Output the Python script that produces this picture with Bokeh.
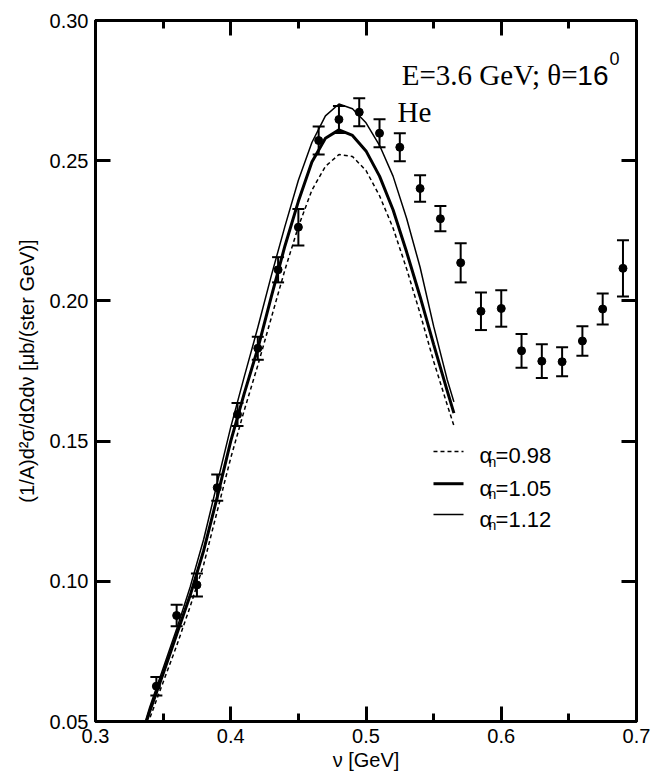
from bokeh.plotting import figure
from bokeh.models import (Range1d, LinearAxis, FixedTicker, PrintfTickFormatter,
                          Whisker, TeeHead, ColumnDataSource, Label)
from bokeh.embed import file_html
from bokeh.resources import INLINE

# ---------------- data ----------------
nu = [0.345, 0.360, 0.375, 0.390, 0.405, 0.420, 0.435, 0.450, 0.465, 0.480,
      0.495, 0.510, 0.525, 0.540, 0.555, 0.570, 0.585, 0.600, 0.615, 0.630,
      0.645, 0.660, 0.675, 0.690]
xsec = [0.0626, 0.0878, 0.0987, 0.1334, 0.1595, 0.1831, 0.2111, 0.2263, 0.2572, 0.2647,
        0.2673, 0.2598, 0.2548, 0.2401, 0.2293, 0.2136, 0.1963, 0.1973, 0.1822, 0.1785,
        0.1783, 0.1857, 0.1971, 0.2116]
xsec_err = [0.0033, 0.0038, 0.0041, 0.0047, 0.0041, 0.0041, 0.0045, 0.0065, 0.0050, 0.0048,
            0.0050, 0.0050, 0.0050, 0.0047, 0.0045, 0.0070, 0.0067, 0.0065, 0.0060, 0.0060,
            0.0052, 0.0053, 0.0055, 0.0100]

curve_nu = [0.335, 0.340, 0.350, 0.360, 0.370, 0.380, 0.390, 0.400, 0.410, 0.420,
            0.430, 0.440, 0.450, 0.460, 0.470, 0.480, 0.490, 0.500, 0.510, 0.520,
            0.530, 0.540, 0.550, 0.560, 0.565]
curve_098 = [0.0445, 0.0510, 0.0640, 0.0770, 0.0910, 0.1060, 0.1250, 0.1440, 0.1610, 0.1770,
             0.1940, 0.2110, 0.2265, 0.2395, 0.2480, 0.2522, 0.2515, 0.2465, 0.2375, 0.2260,
             0.2115, 0.1955, 0.1785, 0.1630, 0.1555]
curve_105 = [0.0460, 0.0535, 0.0670, 0.0810, 0.0950, 0.1110, 0.1300, 0.1500, 0.1670, 0.1830,
             0.2015, 0.2195, 0.2355, 0.2495, 0.2580, 0.2610, 0.2590, 0.2535, 0.2445, 0.2325,
             0.2175, 0.2015, 0.1845, 0.1680, 0.1600]
curve_112 = [0.0470, 0.0550, 0.0690, 0.0830, 0.0980, 0.1150, 0.1350, 0.1550, 0.1730, 0.1905,
             0.2090, 0.2265, 0.2430, 0.2565, 0.2660, 0.2702, 0.2685, 0.2635, 0.2555, 0.2445,
             0.2295, 0.2120, 0.1910, 0.1720, 0.1640]

x_ticks = [0.3, 0.4, 0.5, 0.6, 0.7]
x_minor = [0.35, 0.45, 0.55, 0.65]
y_ticks = [0.05, 0.10, 0.15, 0.20, 0.25, 0.30]

legend_labels = ["=0.98", "=1.05", "=1.12"]

# ---------------- figure ----------------
p = figure(width=652, height=773, output_backend="svg", toolbar_location=None,
           x_range=Range1d(0.3, 0.7), y_range=Range1d(0.05, 0.30),
           min_border_left=95, min_border_right=16, min_border_top=20,
           min_border_bottom=51)
p.grid.visible = False
p.outline_line_color = "black"
p.outline_line_width = 3
p.background_fill_color = "white"
p.border_fill_color = "white"

p.add_layout(LinearAxis(), "above")
p.add_layout(LinearAxis(), "right")

SANS = "Liberation Sans"


def style(ax, ticks, minor, fmt, show):
    ax.ticker = FixedTicker(ticks=ticks, minor_ticks=minor)
    ax.formatter = PrintfTickFormatter(format=fmt)
    ax.axis_line_width = 3
    ax.axis_line_color = "black"
    ax.major_tick_in = 15
    ax.major_tick_out = 0
    ax.major_tick_line_width = 3
    ax.major_tick_line_color = "black"
    ax.minor_tick_in = 8
    ax.minor_tick_out = 0
    ax.minor_tick_line_width = 3
    ax.minor_tick_line_color = "black" if minor else None
    ax.major_label_text_font = SANS
    ax.major_label_text_font_size = "20px"
    ax.major_label_text_color = "black"
    ax.major_label_standoff = 7
    if not show:
        ax.major_label_text_font_size = "1px"
        ax.major_label_text_color = None
        ax.major_label_standoff = 0


for ax in p.below:
    style(ax, x_ticks, x_minor, "%.1f", True)
    ax.axis_label = "ν [GeV]"
    ax.axis_label_standoff = 3
for ax in p.above:
    style(ax, x_ticks, x_minor, "%.1f", False)
for ax in p.left:
    style(ax, y_ticks, [], "%.2f", True)
    ax.axis_label = "(1/A)d²σ/dΩdν [μb/(ster GeV)]"
    ax.axis_label_standoff = 9
for ax in p.right:
    style(ax, y_ticks, [], "%.2f", False)

for ax in p.below + p.left:
    ax.axis_label_text_font = SANS
    ax.axis_label_text_font_size = "20px"
    ax.axis_label_text_font_style = "normal"
    ax.axis_label_text_color = "black"

# ---------------- curves ----------------
p.line(curve_nu, curve_098, line_color="black", line_width=1.5, line_dash="4 3")
p.line(curve_nu, curve_105, line_color="black", line_width=3)
p.line(curve_nu, curve_112, line_color="black", line_width=1.5)

# ---------------- data points ----------------
src = ColumnDataSource(dict(
    x=nu, y=xsec,
    upper=[v + e for v, e in zip(xsec, xsec_err)],
    lower=[v - e for v, e in zip(xsec, xsec_err)],
))
p.add_layout(Whisker(source=src, base="x", upper="upper", lower="lower",
                     line_color="black", line_width=2,
                     upper_head=TeeHead(size=12, line_width=2, line_color="black"),
                     lower_head=TeeHead(size=12, line_width=2, line_color="black")))
p.scatter("x", "y", source=src, size=8, color="black")

# ---------------- annotations ----------------
TX, TY = 0.6793, 0.2804
p.add_layout(Label(x=TX, y=TY, text="16", text_font=SANS, text_font_size="28px",
                   text_align="right", text_baseline="alphabetic", text_color="black"))
p.add_layout(Label(x=TX, y=TY, x_offset=-31, text="E=3.6 GeV; θ=",
                   text_font="Liberation Serif", text_font_size="29px",
                   text_align="right", text_baseline="alphabetic", text_color="black"))
p.add_layout(Label(x=TX, y=0.2865, x_offset=1, text="0", text_font=SANS,
                   text_font_size="18px", text_align="left",
                   text_baseline="alphabetic", text_color="black"))
p.add_layout(Label(x=0.5233, y=0.2672, text="He", text_font="Liberation Serif",
                   text_font_size="29px", text_align="left",
                   text_baseline="alphabetic", text_color="black"))

# ---------------- legend ----------------
LX0, LX1, LTX = 0.5499, 0.5721, 0.5840
row_line_y = [0.1463, 0.1348, 0.1238]
row_base_y = [0.1448, 0.1332, 0.1222]
styles = [dict(line_width=1.5, line_dash="4 3"), dict(line_width=3), dict(line_width=1.5)]
for ly, by, st, lab in zip(row_line_y, row_base_y, styles, legend_labels):
    p.line([LX0, LX1], [ly, ly], line_color="black", **st)
    p.add_layout(Label(x=LTX, y=by, text="α", text_font=SANS, text_font_size="22px",
                       text_align="left", text_baseline="alphabetic", text_color="black"))
    p.add_layout(Label(x=LTX, y=by - 0.0022, x_offset=9, text="n", text_font=SANS,
                       text_font_size="14px", text_align="left",
                       text_baseline="alphabetic", text_color="black"))
    p.add_layout(Label(x=LTX, y=by, x_offset=16, text=lab, text_font=SANS,
                       text_font_size="22px", text_align="left",
                       text_baseline="alphabetic", text_color="black"))

open("out.html", "w").write(file_html(p, INLINE))
